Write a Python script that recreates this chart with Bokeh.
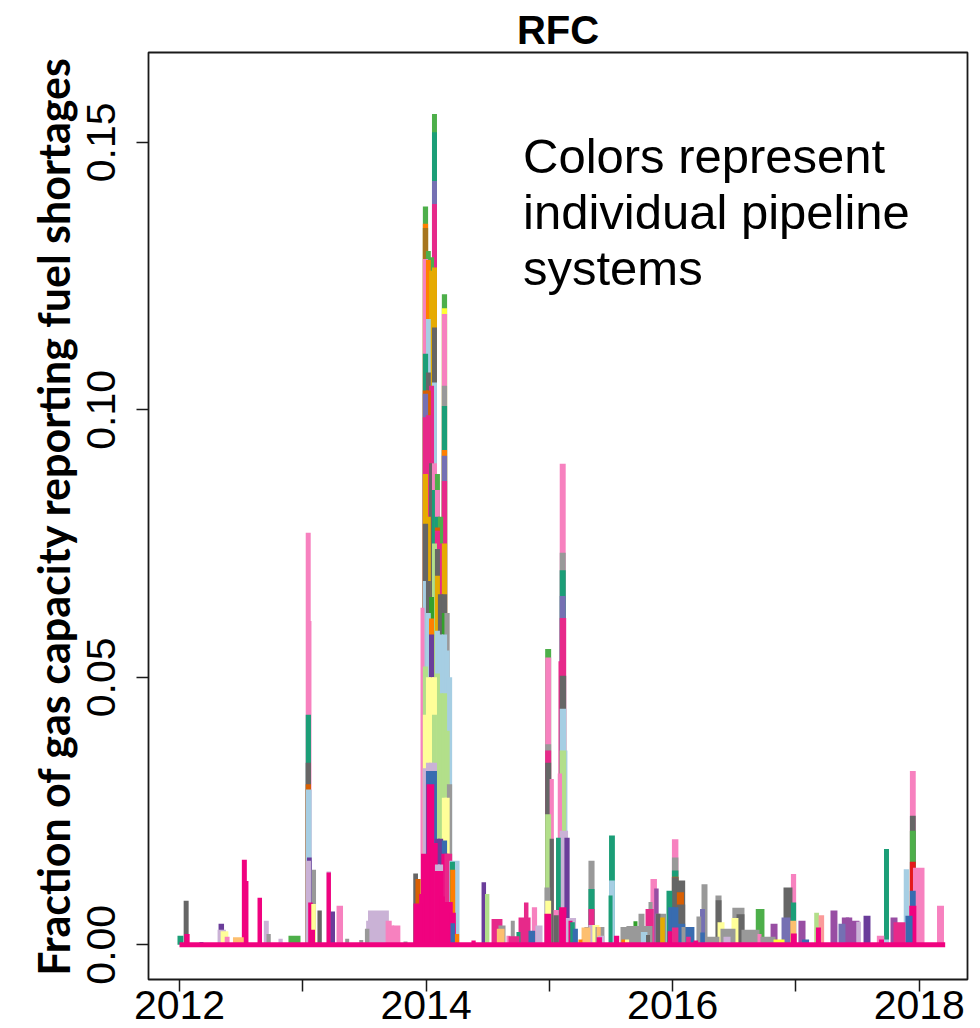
import math
from bokeh.plotting import figure
from bokeh.models import Range1d, FixedTicker, Label, ColumnDataSource
from bokeh.embed import file_html
from bokeh.resources import INLINE

# ---------------- data ----------------
# pipeline-system colours (one per system id)
palette = ["#F0027F", "#666666", "#1B9E77", "#D95F02", "#7570B3", "#E7298A",
           "#4DAF4A", "#E6AB02", "#A6761D", "#A6CEE3", "#386CB0", "#B2DF8A",
           "#F781BF", "#999999", "#CAB2D6", "#6A3D9A", "#FFFF99", "#FDBF6F",
           "#FF7F00", "#E41A1C", "#984EA3", "#FB9A99", "#33A02C", "#FFFF33"]

# shortage events: (start year, end year, stacked fraction, system id)
ev_2012 = [
    (2012.000, 2012.015, 0.0017, 2), (2012.050, 2012.058, 0.0082, 1),
    (2012.055, 2012.066, 0.0020, 0), (2012.178, 2012.178, 0.0005, 10),
    (2012.325, 2012.360, 0.0028, 14), (2012.333, 2012.345, 0.0039, 15),
    (2012.350, 2012.380, 0.0025, 16), (2012.383, 2012.390, 0.0015, 12),
    (2012.450, 2012.505, 0.0014, 17), (2012.522, 2012.530, 0.0159, 0),
    (2012.530, 2012.543, 0.0119, 0), (2012.649, 2012.653, 0.0088, 0),
    (2012.700, 2012.708, 0.0045, 14), (2012.722, 2012.724, 0.0020, 13),
    (2012.819, 2012.821, 0.0011, 14), (2012.900, 2012.965, 0.0017, 6),
]
ev_2013 = [
    (2013.040, 2013.048, 0.0770, 12), (2013.046, 2013.054, 0.0605, 12),
    (2013.040, 2013.050, 0.0430, 2), (2013.040, 2013.050, 0.0340, 1),
    (2013.040, 2013.050, 0.0300, 3), (2013.042, 2013.056, 0.0290, 9),
    (2013.050, 2013.056, 0.0163, 15), (2013.040, 2013.050, 0.0157, 14),
    (2013.089, 2013.091, 0.0140, 13), (2013.060, 2013.064, 0.0079, 0),
    (2013.085, 2013.090, 0.0076, 16), (2013.135, 2013.138, 0.0064, 1),
    (2013.079, 2013.083, 0.0028, 0), (2013.209, 2013.212, 0.0137, 14),
    (2013.209, 2013.212, 0.0135, 0), (2013.242, 2013.245, 0.0062, 15),
    (2013.290, 2013.310, 0.0073, 12), (2013.360, 2013.360, 0.0011, 13),
    (2013.474, 2013.474, 0.0009, 13), (2013.520, 2013.524, 0.0030, 13),
    (2013.530, 2013.545, 0.0045, 14), (2013.545, 2013.682, 0.0064, 14),
    (2013.688, 2013.705, 0.0045, 12), (2013.705, 2013.725, 0.0036, 12),
    (2013.745, 2013.775, 0.0036, 12), (2013.833, 2013.833, 0.0006, 13),
]
ev_winter14 = [
    (2013.912, 2013.918, 0.0133, 1), (2013.930, 2013.940, 0.0123, 3),
    (2013.914, 2013.955, 0.0077, 0), (2013.971, 2013.971, 0.0630, 12),
    (2013.960, 2013.970, 0.0095, 0), (2013.975, 2014.010, 0.0170, 0),
    (2013.990, 2014.000, 0.1380, 6), (2013.990, 2014.000, 0.1348, 18),
    (2013.990, 2014.000, 0.1340, 8), (2013.990, 2014.000, 0.1282, 12),
    (2013.990, 2014.000, 0.1105, 2), (2013.990, 2014.000, 0.1036, 3),
    (2013.990, 2014.000, 0.1030, 4), (2013.990, 2014.000, 0.0986, 5),
    (2013.990, 2014.000, 0.0880, 7), (2013.990, 2014.000, 0.0787, 1),
    (2013.990, 2014.000, 0.0680, 9), (2013.990, 2014.000, 0.0520, 11),
    (2013.990, 2014.000, 0.0430, 16), (2013.990, 2014.000, 0.0330, 14),
    (2014.015, 2014.022, 0.1297, 6), (2014.015, 2014.022, 0.1280, 18),
    (2014.015, 2014.022, 0.1170, 9), (2014.015, 2014.022, 0.1070, 1),
    (2014.015, 2014.022, 0.1036, 3), (2014.015, 2014.022, 0.0990, 5),
    (2014.015, 2014.022, 0.0800, 7), (2014.015, 2014.022, 0.0680, 1),
    (2014.015, 2014.022, 0.0620, 9), (2014.015, 2014.022, 0.0500, 16),
    (2014.015, 2014.022, 0.0340, 14), (2014.015, 2014.022, 0.0325, 10),
    (2014.040, 2014.048, 0.1285, 6), (2014.040, 2014.048, 0.1260, 7),
    (2014.040, 2014.048, 0.1045, 5), (2014.040, 2014.048, 0.0900, 1),
    (2014.040, 2014.048, 0.0650, 22), (2014.040, 2014.048, 0.0610, 18),
    (2014.040, 2014.048, 0.0580, 15), (2014.040, 2014.048, 0.0500, 16),
    (2014.040, 2014.048, 0.0340, 14), (2014.040, 2014.048, 0.0325, 10),
    (2014.020, 2014.050, 0.0300, 0),
    (2014.064, 2014.072, 0.1553, 6), (2014.064, 2014.072, 0.1519, 2),
    (2014.064, 2014.072, 0.1428, 4), (2014.064, 2014.072, 0.1385, 5),
    (2014.064, 2014.072, 0.1266, 7), (2014.064, 2014.072, 0.1154, 1),
    (2014.064, 2014.072, 0.1051, 9), (2014.064, 2014.072, 0.0900, 12),
    (2014.064, 2014.072, 0.0850, 2), (2014.064, 2014.072, 0.0750, 11),
    (2014.064, 2014.072, 0.0500, 16), (2014.064, 2014.072, 0.0430, 11),
    (2014.064, 2014.072, 0.0340, 14), (2014.064, 2014.072, 0.0325, 10),
    (2014.055, 2014.078, 0.0190, 0),
    (2014.088, 2014.096, 0.0880, 6), (2014.088, 2014.096, 0.0850, 12),
    (2014.088, 2014.096, 0.0800, 2), (2014.088, 2014.096, 0.0780, 3),
    (2014.088, 2014.096, 0.0774, 5), (2014.088, 2014.096, 0.0740, 1),
    (2014.088, 2014.096, 0.0690, 7), (2014.088, 2014.096, 0.0587, 9),
    (2014.088, 2014.096, 0.0507, 11), (2014.088, 2014.096, 0.0198, 15),
    (2014.088, 2014.096, 0.0150, 14),
    (2014.112, 2014.122, 0.0800, 6), (2014.112, 2014.122, 0.0750, 5),
    (2014.112, 2014.122, 0.0655, 1), (2014.112, 2014.122, 0.0580, 9),
    (2014.112, 2014.122, 0.0470, 11), (2014.112, 2014.122, 0.0198, 15),
    (2014.112, 2014.122, 0.0150, 14), (2014.085, 2014.125, 0.0138, 0),
    (2014.144, 2014.154, 0.1216, 6), (2014.144, 2014.154, 0.1190, 23),
    (2014.144, 2014.154, 0.1179, 12), (2014.144, 2014.154, 0.1045, 13),
    (2014.144, 2014.154, 0.1007, 2), (2014.144, 2014.154, 0.0925, 18),
    (2014.144, 2014.154, 0.0914, 4), (2014.144, 2014.154, 0.0867, 5),
    (2014.144, 2014.154, 0.0750, 7), (2014.144, 2014.154, 0.0655, 1),
    (2014.144, 2014.154, 0.0620, 22), (2014.144, 2014.154, 0.0580, 9),
    (2014.144, 2014.154, 0.0470, 11), (2014.144, 2014.154, 0.0275, 16),
    (2014.144, 2014.154, 0.0195, 10), (2014.126, 2014.136, 0.0090, 0),
    (2014.140, 2014.160, 0.0170, 0),
    (2014.165, 2014.175, 0.0620, 13), (2014.165, 2014.175, 0.0550, 9),
    (2014.165, 2014.175, 0.0400, 11), (2014.165, 2014.175, 0.0275, 16),
    (2014.165, 2014.175, 0.0170, 5),
    (2014.185, 2014.195, 0.0500, 9), (2014.185, 2014.195, 0.0300, 13),
    (2014.185, 2014.195, 0.0170, 5), (2014.165, 2014.200, 0.0080, 0),
    (2014.205, 2014.255, 0.0157, 9), (2014.210, 2014.218, 0.0155, 2),
    (2014.212, 2014.220, 0.0140, 18), (2014.205, 2014.225, 0.0060, 0),
    (2014.214, 2014.218, 0.0040, 10), (2014.250, 2014.252, 0.0020, 18),
]
ev_2014 = [
    (2014.384, 2014.386, 0.0008, 0), (2014.466, 2014.470, 0.0117, 15),
    (2014.494, 2014.497, 0.0095, 11), (2014.547, 2014.603, 0.0048, 5),
    (2014.590, 2014.620, 0.0030, 17), (2014.603, 2014.628, 0.0036, 13),
    (2014.668, 2014.668, 0.0017, 12), (2014.685, 2014.741, 0.0016, 5),
    (2014.703, 2014.703, 0.0045, 13), (2014.749, 2014.749, 0.0024, 2),
    (2014.766, 2014.831, 0.0051, 5), (2014.810, 2014.814, 0.0079, 5),
    (2014.847, 2014.868, 0.0026, 10), (2014.874, 2014.884, 0.0070, 12),
    (2014.903, 2014.928, 0.0036, 14), (2014.976, 2014.990, 0.0107, 13),
]
ev_2015 = [
    (2014.982, 2014.998, 0.0553, 6), (2014.982, 2014.998, 0.0537, 12),
    (2014.982, 2014.998, 0.0375, 13), (2014.982, 2014.998, 0.0363, 5),
    (2014.982, 2014.998, 0.0340, 1), (2014.982, 2014.998, 0.0244, 11),
    (2014.982, 2014.998, 0.0082, 16), (2014.976, 2014.998, 0.0058, 0),
    (2015.018, 2015.020, 0.0310, 12), (2015.018, 2015.020, 0.0198, 1),
    (2015.050, 2015.060, 0.0065, 12), (2015.050, 2015.060, 0.0055, 1),
    (2015.070, 2015.076, 0.0200, 2), (2015.084, 2015.086, 0.0320, 12),
    (2015.090, 2015.094, 0.0530, 5),
    (2015.100, 2015.116, 0.0899, 12), (2015.100, 2015.116, 0.0733, 13),
    (2015.100, 2015.116, 0.0700, 2), (2015.100, 2015.116, 0.0652, 4),
    (2015.100, 2015.120, 0.0611, 5), (2015.100, 2015.120, 0.0503, 1),
    (2015.100, 2015.120, 0.0441, 9), (2015.120, 2015.130, 0.0363, 9),
    (2015.100, 2015.120, 0.0363, 11), (2015.100, 2015.135, 0.0213, 14),
    (2015.138, 2015.148, 0.0200, 15), (2015.095, 2015.122, 0.0070, 0),
    (2015.150, 2015.200, 0.0050, 14), (2015.171, 2015.171, 0.0045, 0),
    (2015.185, 2015.190, 0.0042, 2), (2015.205, 2015.215, 0.0030, 10),
    (2015.252, 2015.252, 0.0010, 18), (2015.277, 2015.317, 0.0032, 17),
    (2015.300, 2015.305, 0.0033, 13),
    (2015.333, 2015.350, 0.0157, 13), (2015.333, 2015.350, 0.0104, 2),
    (2015.333, 2015.350, 0.0067, 5), (2015.333, 2015.365, 0.0037, 14),
    (2015.365, 2015.390, 0.0037, 16), (2015.390, 2015.430, 0.0033, 13),
    (2015.400, 2015.400, 0.0033, 17), (2015.400, 2015.410, 0.0014, 0),
    (2015.410, 2015.430, 0.0017, 14), (2015.496, 2015.496, 0.0092, 2),
    (2015.500, 2015.515, 0.0204, 2), (2015.500, 2015.515, 0.0120, 9),
    (2015.540, 2015.550, 0.0017, 0), (2015.593, 2015.617, 0.0033, 13),
    (2015.600, 2015.600, 0.0010, 18), (2015.630, 2015.630, 0.0010, 16),
    (2015.641, 2015.820, 0.0035, 13), (2015.739, 2015.755, 0.0058, 13),
    (2015.698, 2015.698, 0.0044, 22), (2015.758, 2015.779, 0.0024, 9),
    (2015.796, 2015.830, 0.0067, 5), (2015.800, 2015.800, 0.0018, 1),
    (2015.820, 2015.820, 0.0080, 13), (2015.836, 2015.856, 0.0123, 12),
    (2015.866, 2015.870, 0.0105, 20), (2015.877, 2015.930, 0.0058, 13),
    (2015.880, 2015.884, 0.0058, 1), (2015.915, 2015.920, 0.0051, 7),
    (2015.966, 2015.980, 0.0101, 2), (2015.980, 2015.998, 0.0070, 10),
    (2015.975, 2015.978, 0.0025, 0),
]
ev_2016 = [
    (2016.010, 2016.030, 0.0197, 12), (2016.010, 2016.030, 0.0163, 13),
    (2016.010, 2016.030, 0.0139, 2), (2016.010, 2016.030, 0.0127, 3),
    (2016.010, 2016.030, 0.0126, 1), (2016.010, 2016.030, 0.0070, 10),
    (2016.010, 2016.030, 0.0032, 5), (2016.047, 2016.085, 0.0120, 1),
    (2016.050, 2016.075, 0.0098, 3), (2016.050, 2016.085, 0.0075, 1),
    (2016.050, 2016.085, 0.0039, 10), (2016.088, 2016.120, 0.0033, 13),
    (2016.120, 2016.160, 0.0033, 10), (2016.125, 2016.130, 0.0015, 5),
    (2016.185, 2016.190, 0.0008, 0), (2016.209, 2016.215, 0.0053, 13),
    (2016.238, 2016.246, 0.0067, 4), (2016.250, 2016.266, 0.0113, 13),
    (2016.240, 2016.244, 0.0023, 10), (2016.282, 2016.363, 0.0015, 13),
    (2016.363, 2016.380, 0.0092, 13), (2016.365, 2016.380, 0.0083, 1),
    (2016.380, 2016.404, 0.0042, 16), (2016.404, 2016.493, 0.0030, 13),
    (2016.428, 2016.453, 0.0015, 14), (2016.493, 2016.517, 0.0050, 16),
    (2016.500, 2016.566, 0.0069, 13), (2016.534, 2016.566, 0.0057, 1),
    (2016.574, 2016.688, 0.0028, 13), (2016.690, 2016.728, 0.0067, 6),
    (2016.704, 2016.704, 0.0020, 12), (2016.728, 2016.818, 0.0015, 13),
    (2016.810, 2016.834, 0.0039, 20), (2016.834, 2016.891, 0.0010, 23),
    (2016.899, 2016.939, 0.0051, 4), (2016.915, 2016.955, 0.0107, 1),
    (2016.975, 2016.985, 0.0132, 12), (2016.975, 2016.985, 0.0079, 2),
    (2016.970, 2016.985, 0.0045, 17), (2016.975, 2016.990, 0.0021, 0),
]
ev_2017 = [
    (2017.036, 2017.061, 0.0045, 20), (2017.065, 2017.090, 0.0010, 10),
    (2017.164, 2017.170, 0.0060, 11), (2017.200, 2017.212, 0.0055, 21),
    (2017.178, 2017.186, 0.0032, 0), (2017.296, 2017.320, 0.0064, 20),
    (2017.361, 2017.385, 0.0039, 4), (2017.388, 2017.415, 0.0051, 20),
    (2017.420, 2017.440, 0.0051, 20), (2017.466, 2017.499, 0.0045, 20),
    (2017.505, 2017.510, 0.0043, 14), (2017.564, 2017.588, 0.0054, 15),
    (2017.672, 2017.700, 0.0017, 12), (2017.690, 2017.700, 0.0010, 0),
    (2017.730, 2017.738, 0.0179, 2), (2017.730, 2017.738, 0.0010, 9),
    (2017.783, 2017.807, 0.0051, 20), (2017.807, 2017.872, 0.0042, 5),
    (2017.890, 2017.900, 0.0141, 9), (2017.904, 2017.929, 0.0054, 10),
    (2017.940, 2017.955, 0.0325, 12), (2017.940, 2017.955, 0.0241, 1),
    (2017.940, 2017.955, 0.0213, 6), (2017.940, 2017.955, 0.0155, 19),
    (2017.940, 2017.955, 0.0101, 10), (2017.935, 2017.960, 0.0073, 0),
    (2017.965, 2018.026, 0.0144, 12), (2018.160, 2018.184, 0.0073, 12),
]
series_span = [2012.0, 2018.21]   # first and last day of the record
series_zero = [0.0, 0.0]

x_ticks = [2012, 2013, 2014, 2015, 2016, 2017, 2018]
x_tick_labels = ["2012", "", "2014", "", "2016", "", "2018"]
y_ticks = [0.0, 0.05, 0.10, 0.15]
y_tick_labels = ["0.00", "0.05", "0.10", "0.15"]

title_text = "RFC"
y_title = "Fraction of gas capacity reporting fuel shortages"
note_lines = ["Colors represent", "individual pipeline", "systems"]

# ---------------- layout ----------------
W, H = 980, 1028
B_LEFT, B_RIGHT, B_TOP, B_BOTTOM = 148, 13, 52, 49
x_lo, x_hi = 2011.7486, 2018.391
y_lo, y_hi = -0.0065, 0.1668
frame_w = W - B_LEFT - B_RIGHT
frame_h = H - B_TOP - B_BOTTOM
px_x = (x_hi - x_lo) / frame_w
px_y = (y_hi - y_lo) / frame_h

p = figure(width=W, height=H, output_backend="svg", toolbar_location=None,
           x_range=Range1d(x_lo, x_hi), y_range=Range1d(y_lo, y_hi),
           min_border_left=B_LEFT, min_border_right=B_RIGHT,
           min_border_top=B_TOP, min_border_bottom=B_BOTTOM)
p.background_fill_color = "white"
p.border_fill_color = "white"
p.outline_line_color = "#1a1a1a"
p.outline_line_width = 1.8
p.xgrid.visible = False
p.ygrid.visible = False

events = ev_2012 + ev_2013 + ev_winter14 + ev_2014 + ev_2015 + ev_2016 + ev_2017
events = sorted(events, key=lambda e: -e[2])  # lower stack levels drawn on top
half_w = 2.0 * px_x
src = ColumnDataSource(dict(
    left=[e[0] - half_w for e in events],
    right=[e[1] + half_w for e in events],
    top=[e[2] for e in events],
    bottom=[0.0 for e in events],
    color=[palette[e[3]] for e in events],
))
p.quad(left="left", right="right", top="top", bottom="bottom",
       fill_color="color", line_color=None, source=src)
p.line(series_span, series_zero, line_width=5, line_color=palette[0])

# axes
for ax in (p.xaxis[0], p.yaxis[0]):
    ax.axis_line_color = None
    ax.major_tick_line_color = "#1a1a1a"
    ax.major_tick_line_width = 1.5
    ax.major_tick_out = 12
    ax.major_tick_in = 0
    ax.minor_tick_line_color = None
    ax.major_label_text_font = "Liberation Sans"
    ax.major_label_text_font_size = "41px"
    ax.major_label_text_color = "black"

p.xaxis.ticker = FixedTicker(ticks=x_ticks)
p.xaxis.major_label_overrides = {t: l for t, l in zip(x_ticks, x_tick_labels)}
p.xaxis.major_label_standoff = -1

p.yaxis.ticker = FixedTicker(ticks=y_ticks)
p.yaxis.major_label_overrides = {t: l for t, l in zip(y_ticks, y_tick_labels)}
p.yaxis.major_label_orientation = "vertical"
p.yaxis.major_label_standoff = 21
p.yaxis.axis_label = y_title
p.yaxis.axis_label_text_font = "Lato"
p.yaxis.axis_label_text_font_style = "bold"
p.yaxis.axis_label_text_font_size = "43px"
p.yaxis.axis_label_text_color = "black"
p.yaxis.axis_label_standoff = 6

p.title.text = title_text
p.title.align = "center"
p.title.text_font = "Liberation Sans"
p.title.text_font_style = "bold"
p.title.text_font_size = "40px"
p.title.text_color = "black"
p.title.standoff = 2

# annotation text block
note_x = 2014.786
note_y0 = 0.14751
line_step = 56 * px_y
for i, t in enumerate(note_lines):
    p.add_layout(Label(x=note_x, y=note_y0 - i * line_step, text=t,
                       text_font="Liberation Sans", text_font_size="49px",
                       text_color="black", text_align="left",
                       text_baseline="alphabetic"))

open("out.html", "w").write(file_html(p, INLINE))
